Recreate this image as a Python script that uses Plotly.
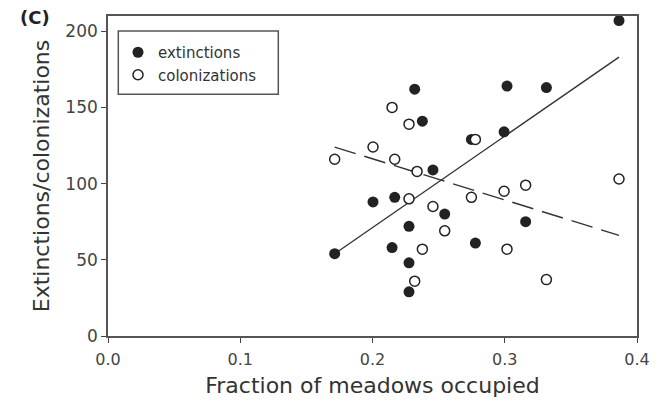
import plotly.graph_objects as go

# Data
ext_x = [0.1714, 0.2004, 0.2148, 0.2168, 0.2276, 0.2276, 0.2276, 0.2319, 0.2377,
         0.2457, 0.2546, 0.2748, 0.2778, 0.2995, 0.3017, 0.3158, 0.3315, 0.3864]
ext_y = [54, 88, 58, 91, 72, 48, 29, 162, 141, 109, 80, 129, 61, 134, 164, 75, 163, 207]

col_x = [0.1714, 0.2004, 0.2148, 0.2168, 0.2276, 0.2276, 0.2319, 0.2337, 0.2377,
         0.2457, 0.2546, 0.2748, 0.2778, 0.2995, 0.3017, 0.3158, 0.3315, 0.3864]
col_y = [116, 124, 150, 116, 139, 90, 36, 108, 57, 85, 69, 91, 129, 95, 57, 99, 37, 103]

# Regression lines (end points)
ext_fit_x = [0.1714, 0.3864]
ext_fit_y = [54, 183]
col_fit_x = [0.1714, 0.3864]
col_fit_y = [124, 66]

x_ticks = [0.0, 0.1, 0.2, 0.3, 0.4]
x_tick_labels = ["0.0", "0.1", "0.2", "0.3", "0.4"]
y_ticks = [0, 50, 100, 150, 200]

FONT = "DejaVu Sans"
INK = "#222222"

L, R, T, B = 108, 30, 16, 65
PW, PH = 667 - L - R, 401 - T - B


def px_x(p):
    return (p - L) / PW


def px_y(p):
    return 1 - (p - T) / PH


fig = go.Figure()

fig.add_trace(go.Scatter(x=ext_fit_x, y=ext_fit_y, mode="lines",
                         line=dict(color="#333333", width=1.4),
                         showlegend=False, hoverinfo="skip"))
fig.add_trace(go.Scatter(x=col_fit_x, y=col_fit_y, mode="lines",
                         line=dict(color="#333333", width=1.4, dash="22px,9px"),
                         showlegend=False, hoverinfo="skip"))

fig.add_trace(go.Scatter(x=ext_x, y=ext_y, mode="markers", name="extinctions",
                         marker=dict(symbol="circle", size=11, color=INK,
                                     line=dict(color=INK, width=0))))
fig.add_trace(go.Scatter(x=col_x, y=col_y, mode="markers", name="colonizations",
                         marker=dict(symbol="circle", size=10, color="white",
                                     line=dict(color=INK, width=1.5))))

fig.update_layout(
    width=667, height=401,
    margin=dict(l=L, r=R, t=T, b=B),
    plot_bgcolor="white", paper_bgcolor="white",
    font=dict(family=FONT, color="#333333"),
    showlegend=True,
    legend=dict(x=px_x(118), y=px_y(36), xref="paper", yref="paper",
                xanchor="left", yanchor="top",
                bgcolor="rgba(0,0,0,0)", borderwidth=0,
                font=dict(family=FONT, size=15, color="#333333"),
                tracegroupgap=0),
    xaxis=dict(range=[0, 0.4], tickvals=x_ticks, ticktext=x_tick_labels,
               ticks="outside", ticklen=5, tickwidth=1.3, tickcolor="#444444",
               showline=True, linecolor="#555555", linewidth=1.6, mirror=True,
               showgrid=False, zeroline=False, ticklabelstandoff=3,
               automargin=False,
               tickfont=dict(family=FONT, size=16, color="#444444"),
               title=dict(text="Fraction of meadows occupied",
                          font=dict(family=FONT, size=22, color="#333333"),
                          standoff=10)),
    yaxis=dict(range=[0, 210], tickvals=y_ticks,
               ticks="outside", ticklen=5, tickwidth=1.3, tickcolor="#444444",
               showline=True, linecolor="#555555", linewidth=1.6, mirror=True,
               showgrid=False, zeroline=False, automargin=False,
               tickfont=dict(family=FONT, size=17, color="#444444"),
               title=dict(text="Extinctions/colonizations",
                          font=dict(family=FONT, size=22, color="#333333"),
                          standoff=10)),
    shapes=[dict(type="rect", xref="paper", yref="paper",
                 x0=px_x(118.3), x1=px_x(278.3),
                 y0=px_y(94.3), y1=px_y(31),
                 line=dict(color="#555555", width=1.5), fillcolor="rgba(0,0,0,0)")],
    annotations=[dict(text="<b>(C)</b>", x=px_x(35), y=px_y(18),
                      xref="paper", yref="paper", xanchor="center", yanchor="middle",
                      showarrow=False, font=dict(family=FONT, size=18, color="#222222"))],
)

fig.write_html("out.html")
